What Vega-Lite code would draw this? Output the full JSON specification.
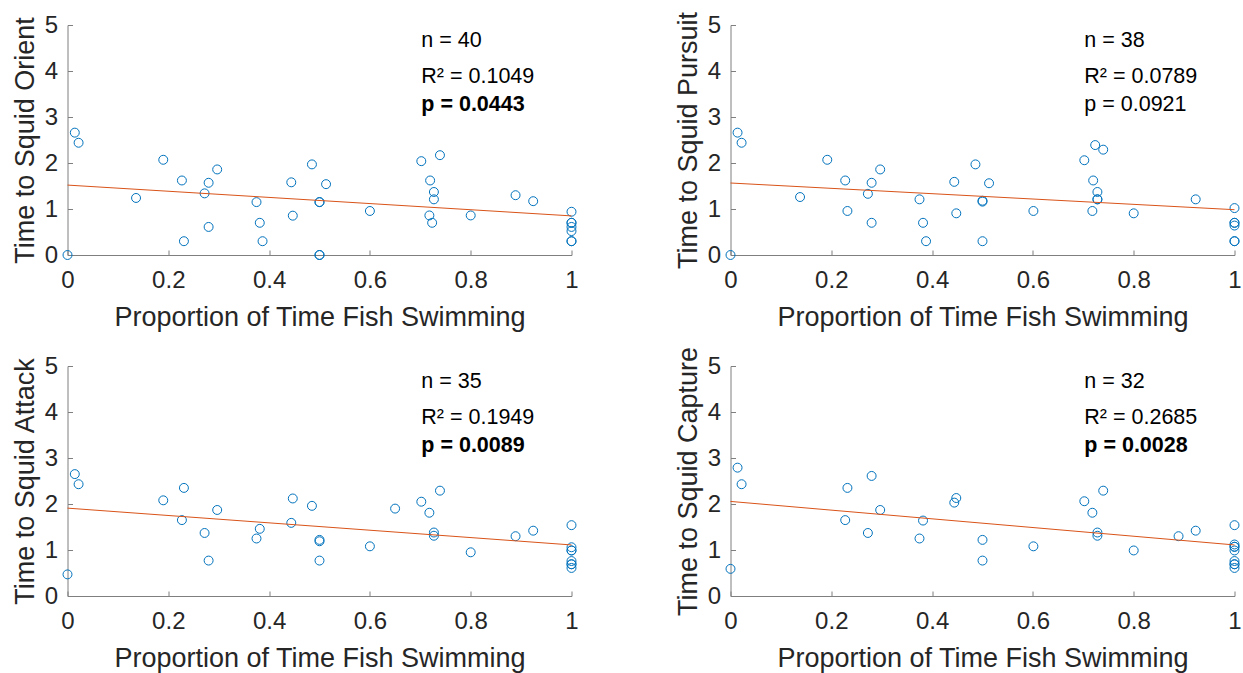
{
  "$schema": "https://vega.github.io/schema/vega-lite/v6.json",
  "background": "white",
  "padding": {"left": 10.5, "top": 11, "right": 2, "bottom": 2},
  "bounds": "flush",
  "columns": 2,
  "spacing": {"row": 111, "column": 159},
  "datasets": {
    "trials": [
      {"stage": "Orient", "swim": 0.000, "time": 0.00},
      {"stage": "Orient", "swim": 0.0145, "time": 2.66},
      {"stage": "Orient", "swim": 0.022, "time": 2.44},
      {"stage": "Orient", "swim": 0.136, "time": 1.24},
      {"stage": "Orient", "swim": 0.190, "time": 2.07},
      {"stage": "Orient", "swim": 0.227, "time": 1.62},
      {"stage": "Orient", "swim": 0.231, "time": 0.30},
      {"stage": "Orient", "swim": 0.272, "time": 1.34},
      {"stage": "Orient", "swim": 0.280, "time": 1.57},
      {"stage": "Orient", "swim": 0.280, "time": 0.61},
      {"stage": "Orient", "swim": 0.297, "time": 1.86},
      {"stage": "Orient", "swim": 0.375, "time": 1.15},
      {"stage": "Orient", "swim": 0.3815, "time": 0.70},
      {"stage": "Orient", "swim": 0.387, "time": 0.30},
      {"stage": "Orient", "swim": 0.444, "time": 1.58},
      {"stage": "Orient", "swim": 0.447, "time": 0.855},
      {"stage": "Orient", "swim": 0.485, "time": 1.97},
      {"stage": "Orient", "swim": 0.500, "time": 1.15},
      {"stage": "Orient", "swim": 0.500, "time": 1.15},
      {"stage": "Orient", "swim": 0.500, "time": 0.00},
      {"stage": "Orient", "swim": 0.500, "time": 0.00},
      {"stage": "Orient", "swim": 0.513, "time": 1.54},
      {"stage": "Orient", "swim": 0.600, "time": 0.957},
      {"stage": "Orient", "swim": 0.702, "time": 2.04},
      {"stage": "Orient", "swim": 0.7195, "time": 1.62},
      {"stage": "Orient", "swim": 0.727, "time": 1.37},
      {"stage": "Orient", "swim": 0.727, "time": 1.21},
      {"stage": "Orient", "swim": 0.718, "time": 0.86},
      {"stage": "Orient", "swim": 0.7235, "time": 0.70},
      {"stage": "Orient", "swim": 0.739, "time": 2.17},
      {"stage": "Orient", "swim": 0.800, "time": 0.86},
      {"stage": "Orient", "swim": 0.889, "time": 1.30},
      {"stage": "Orient", "swim": 0.924, "time": 1.17},
      {"stage": "Orient", "swim": 1, "time": 0.94},
      {"stage": "Orient", "swim": 1, "time": 0.70},
      {"stage": "Orient", "swim": 1, "time": 0.70},
      {"stage": "Orient", "swim": 1, "time": 0.61},
      {"stage": "Orient", "swim": 1, "time": 0.52},
      {"stage": "Orient", "swim": 1, "time": 0.30},
      {"stage": "Orient", "swim": 1, "time": 0.30},

      {"stage": "Pursuit", "swim": 0.000, "time": 0.00},
      {"stage": "Pursuit", "swim": 0.014, "time": 2.66},
      {"stage": "Pursuit", "swim": 0.022, "time": 2.44},
      {"stage": "Pursuit", "swim": 0.138, "time": 1.26},
      {"stage": "Pursuit", "swim": 0.192, "time": 2.07},
      {"stage": "Pursuit", "swim": 0.2276, "time": 1.62},
      {"stage": "Pursuit", "swim": 0.232, "time": 0.957},
      {"stage": "Pursuit", "swim": 0.2726, "time": 1.33},
      {"stage": "Pursuit", "swim": 0.280, "time": 1.57},
      {"stage": "Pursuit", "swim": 0.280, "time": 0.70},
      {"stage": "Pursuit", "swim": 0.297, "time": 1.86},
      {"stage": "Pursuit", "swim": 0.375, "time": 1.21},
      {"stage": "Pursuit", "swim": 0.382, "time": 0.70},
      {"stage": "Pursuit", "swim": 0.388, "time": 0.30},
      {"stage": "Pursuit", "swim": 0.444, "time": 1.59},
      {"stage": "Pursuit", "swim": 0.448, "time": 0.906},
      {"stage": "Pursuit", "swim": 0.486, "time": 1.97},
      {"stage": "Pursuit", "swim": 0.500, "time": 1.16},
      {"stage": "Pursuit", "swim": 0.500, "time": 1.18},
      {"stage": "Pursuit", "swim": 0.500, "time": 0.30},
      {"stage": "Pursuit", "swim": 0.513, "time": 1.56},
      {"stage": "Pursuit", "swim": 0.601, "time": 0.957},
      {"stage": "Pursuit", "swim": 0.702, "time": 2.06},
      {"stage": "Pursuit", "swim": 0.7236, "time": 2.39},
      {"stage": "Pursuit", "swim": 0.7395, "time": 2.29},
      {"stage": "Pursuit", "swim": 0.7196, "time": 1.62},
      {"stage": "Pursuit", "swim": 0.728, "time": 1.37},
      {"stage": "Pursuit", "swim": 0.728, "time": 1.21},
      {"stage": "Pursuit", "swim": 0.728, "time": 1.21},
      {"stage": "Pursuit", "swim": 0.718, "time": 0.957},
      {"stage": "Pursuit", "swim": 0.800, "time": 0.906},
      {"stage": "Pursuit", "swim": 0.923, "time": 1.21},
      {"stage": "Pursuit", "swim": 1, "time": 1.02},
      {"stage": "Pursuit", "swim": 1, "time": 0.70},
      {"stage": "Pursuit", "swim": 1, "time": 0.70},
      {"stage": "Pursuit", "swim": 1, "time": 0.64},
      {"stage": "Pursuit", "swim": 1, "time": 0.30},
      {"stage": "Pursuit", "swim": 1, "time": 0.30},

      {"stage": "Attack", "swim": 0.000, "time": 0.47},
      {"stage": "Attack", "swim": 0.0145, "time": 2.65},
      {"stage": "Attack", "swim": 0.022, "time": 2.43},
      {"stage": "Attack", "swim": 0.190, "time": 2.08},
      {"stage": "Attack", "swim": 0.231, "time": 2.35},
      {"stage": "Attack", "swim": 0.227, "time": 1.65},
      {"stage": "Attack", "swim": 0.297, "time": 1.87},
      {"stage": "Attack", "swim": 0.272, "time": 1.37},
      {"stage": "Attack", "swim": 0.280, "time": 0.77},
      {"stage": "Attack", "swim": 0.375, "time": 1.25},
      {"stage": "Attack", "swim": 0.3815, "time": 1.46},
      {"stage": "Attack", "swim": 0.444, "time": 1.59},
      {"stage": "Attack", "swim": 0.447, "time": 2.12},
      {"stage": "Attack", "swim": 0.485, "time": 1.96},
      {"stage": "Attack", "swim": 0.500, "time": 1.22},
      {"stage": "Attack", "swim": 0.500, "time": 1.19},
      {"stage": "Attack", "swim": 0.500, "time": 0.77},
      {"stage": "Attack", "swim": 0.600, "time": 1.08},
      {"stage": "Attack", "swim": 0.650, "time": 1.90},
      {"stage": "Attack", "swim": 0.702, "time": 2.05},
      {"stage": "Attack", "swim": 0.718, "time": 1.81},
      {"stage": "Attack", "swim": 0.727, "time": 1.38},
      {"stage": "Attack", "swim": 0.727, "time": 1.31},
      {"stage": "Attack", "swim": 0.739, "time": 2.29},
      {"stage": "Attack", "swim": 0.800, "time": 0.95},
      {"stage": "Attack", "swim": 0.889, "time": 1.30},
      {"stage": "Attack", "swim": 0.924, "time": 1.42},
      {"stage": "Attack", "swim": 1, "time": 1.54},
      {"stage": "Attack", "swim": 1, "time": 1.06},
      {"stage": "Attack", "swim": 1, "time": 0.99},
      {"stage": "Attack", "swim": 1, "time": 0.99},
      {"stage": "Attack", "swim": 1, "time": 0.76},
      {"stage": "Attack", "swim": 1, "time": 0.69},
      {"stage": "Attack", "swim": 1, "time": 0.69},
      {"stage": "Attack", "swim": 1, "time": 0.61},

      {"stage": "Capture", "swim": 0.000, "time": 0.59},
      {"stage": "Capture", "swim": 0.014, "time": 2.79},
      {"stage": "Capture", "swim": 0.022, "time": 2.43},
      {"stage": "Capture", "swim": 0.232, "time": 2.35},
      {"stage": "Capture", "swim": 0.2276, "time": 1.65},
      {"stage": "Capture", "swim": 0.280, "time": 2.61},
      {"stage": "Capture", "swim": 0.297, "time": 1.87},
      {"stage": "Capture", "swim": 0.2726, "time": 1.37},
      {"stage": "Capture", "swim": 0.375, "time": 1.25},
      {"stage": "Capture", "swim": 0.382, "time": 1.64},
      {"stage": "Capture", "swim": 0.444, "time": 2.03},
      {"stage": "Capture", "swim": 0.448, "time": 2.13},
      {"stage": "Capture", "swim": 0.500, "time": 1.22},
      {"stage": "Capture", "swim": 0.500, "time": 0.77},
      {"stage": "Capture", "swim": 0.601, "time": 1.08},
      {"stage": "Capture", "swim": 0.702, "time": 2.06},
      {"stage": "Capture", "swim": 0.718, "time": 1.81},
      {"stage": "Capture", "swim": 0.728, "time": 1.38},
      {"stage": "Capture", "swim": 0.728, "time": 1.31},
      {"stage": "Capture", "swim": 0.7395, "time": 2.29},
      {"stage": "Capture", "swim": 0.800, "time": 0.99},
      {"stage": "Capture", "swim": 0.889, "time": 1.30},
      {"stage": "Capture", "swim": 0.923, "time": 1.42},
      {"stage": "Capture", "swim": 1, "time": 1.54},
      {"stage": "Capture", "swim": 1, "time": 1.12},
      {"stage": "Capture", "swim": 1, "time": 1.07},
      {"stage": "Capture", "swim": 1, "time": 1.07},
      {"stage": "Capture", "swim": 1, "time": 0.99},
      {"stage": "Capture", "swim": 1, "time": 0.76},
      {"stage": "Capture", "swim": 1, "time": 0.69},
      {"stage": "Capture", "swim": 1, "time": 0.69},
      {"stage": "Capture", "swim": 1, "time": 0.61}
    ],
    "fits": [
      {"stage": "Orient", "swim": 0, "time": 1.52},
      {"stage": "Orient", "swim": 1, "time": 0.85},
      {"stage": "Pursuit", "swim": 0, "time": 1.565},
      {"stage": "Pursuit", "swim": 1, "time": 0.985},
      {"stage": "Attack", "swim": 0, "time": 1.91},
      {"stage": "Attack", "swim": 1, "time": 1.11},
      {"stage": "Capture", "swim": 0, "time": 2.056},
      {"stage": "Capture", "swim": 1, "time": 1.11}
    ],
    "stats": [
      {"stage": "Orient", "n": "n = 40", "r2": "R² = 0.1049", "p": "p = 0.0443"},
      {"stage": "Pursuit", "n": "n = 38", "r2": "R² = 0.0789", "p": "p = 0.0921"},
      {"stage": "Attack", "n": "n = 35", "r2": "R² = 0.1949", "p": "p = 0.0089"},
      {"stage": "Capture", "n": "n = 32", "r2": "R² = 0.2685", "p": "p = 0.0028"}
    ]
  },
  "config": {
    "view": {"stroke": null},
    "font": "Liberation Sans",
    "axis": {
      "grid": false,
      "domainColor": "#7f7f7f",
      "domainWidth": 1,
      "tickColor": "#7f7f7f",
      "tickWidth": 1,
      "tickSize": -5,
      "labelColor": "#262626",
      "titleColor": "#262626",
      "labelFont": "Liberation Sans",
      "titleFont": "Liberation Sans",
      "labelFontSize": 24,
      "titleFontSize": 27,
      "titleFontWeight": "normal",
      "labelOverlap": false
    },
    "axisX": {"labelPadding": 18.5, "labelFlush": false, "titleY": 70, "titleBaseline": "alphabetic"},
    "axisY": {"labelPadding": 15, "titleX": -34.4, "titleBaseline": "alphabetic"},
    "text": {"font": "Liberation Sans", "fontSize": 21.5, "color": "#000000", "align": "left", "baseline": "alphabetic"}
  },
  "concat": [
    {
      "width": 504, "height": 230,
      "layer": [
        {
          "data": {"name": "trials"},
          "transform": [{"filter": "datum.stage === 'Orient'"}],
          "mark": {"type": "point", "shape": "circle", "filled": false, "stroke": "#0072BD", "strokeWidth": 1, "size": 80, "opacity": 1},
          "encoding": {
            "x": {"field": "swim", "type": "quantitative", "scale": {"domain": [0, 1], "nice": false}, "axis": {"title": "Proportion of Time Fish Swimming", "values": [0, 0.2, 0.4, 0.6, 0.8, 1], "format": "~g"}},
            "y": {"field": "time", "type": "quantitative", "scale": {"domain": [0, 5], "nice": false}, "axis": {"title": "Time to Squid Orient", "values": [0, 1, 2, 3, 4, 5]}}
          }
        },
        {
          "data": {"name": "fits"},
          "transform": [{"filter": "datum.stage === 'Orient'"}],
          "mark": {"type": "line", "color": "#D95319", "strokeWidth": 1},
          "encoding": {"x": {"field": "swim", "type": "quantitative"}, "y": {"field": "time", "type": "quantitative"}}
        },
        {
          "data": {"name": "stats"},
          "transform": [{"filter": "datum.stage === 'Orient'"}],
          "layer": [
            {"mark": {"type": "text"}, "encoding": {"x": {"datum": 0.702, "type": "quantitative"}, "y": {"datum": 4.53, "type": "quantitative"}, "text": {"field": "n"}}},
            {"mark": {"type": "text"}, "encoding": {"x": {"datum": 0.702, "type": "quantitative"}, "y": {"datum": 3.75, "type": "quantitative"}, "text": {"field": "r2"}}},
            {"mark": {"type": "text", "fontWeight": "bold"}, "encoding": {"x": {"datum": 0.702, "type": "quantitative"}, "y": {"datum": 3.12, "type": "quantitative"}, "text": {"field": "p"}}}
          ]
        }
      ]
    },
    {
      "width": 504, "height": 230,
      "layer": [
        {
          "data": {"name": "trials"},
          "transform": [{"filter": "datum.stage === 'Pursuit'"}],
          "mark": {"type": "point", "shape": "circle", "filled": false, "stroke": "#0072BD", "strokeWidth": 1, "size": 80, "opacity": 1},
          "encoding": {
            "x": {"field": "swim", "type": "quantitative", "scale": {"domain": [0, 1], "nice": false}, "axis": {"title": "Proportion of Time Fish Swimming", "values": [0, 0.2, 0.4, 0.6, 0.8, 1], "format": "~g"}},
            "y": {"field": "time", "type": "quantitative", "scale": {"domain": [0, 5], "nice": false}, "axis": {"title": "Time to Squid Pursuit", "values": [0, 1, 2, 3, 4, 5]}}
          }
        },
        {
          "data": {"name": "fits"},
          "transform": [{"filter": "datum.stage === 'Pursuit'"}],
          "mark": {"type": "line", "color": "#D95319", "strokeWidth": 1},
          "encoding": {"x": {"field": "swim", "type": "quantitative"}, "y": {"field": "time", "type": "quantitative"}}
        },
        {
          "data": {"name": "stats"},
          "transform": [{"filter": "datum.stage === 'Pursuit'"}],
          "layer": [
            {"mark": {"type": "text"}, "encoding": {"x": {"datum": 0.702, "type": "quantitative"}, "y": {"datum": 4.53, "type": "quantitative"}, "text": {"field": "n"}}},
            {"mark": {"type": "text"}, "encoding": {"x": {"datum": 0.702, "type": "quantitative"}, "y": {"datum": 3.75, "type": "quantitative"}, "text": {"field": "r2"}}},
            {"mark": {"type": "text"}, "encoding": {"x": {"datum": 0.702, "type": "quantitative"}, "y": {"datum": 3.12, "type": "quantitative"}, "text": {"field": "p"}}}
          ]
        }
      ]
    },
    {
      "width": 504, "height": 230,
      "layer": [
        {
          "data": {"name": "trials"},
          "transform": [{"filter": "datum.stage === 'Attack'"}],
          "mark": {"type": "point", "shape": "circle", "filled": false, "stroke": "#0072BD", "strokeWidth": 1, "size": 80, "opacity": 1},
          "encoding": {
            "x": {"field": "swim", "type": "quantitative", "scale": {"domain": [0, 1], "nice": false}, "axis": {"title": "Proportion of Time Fish Swimming", "values": [0, 0.2, 0.4, 0.6, 0.8, 1], "format": "~g"}},
            "y": {"field": "time", "type": "quantitative", "scale": {"domain": [0, 5], "nice": false}, "axis": {"title": "Time to Squid Attack", "values": [0, 1, 2, 3, 4, 5]}}
          }
        },
        {
          "data": {"name": "fits"},
          "transform": [{"filter": "datum.stage === 'Attack'"}],
          "mark": {"type": "line", "color": "#D95319", "strokeWidth": 1},
          "encoding": {"x": {"field": "swim", "type": "quantitative"}, "y": {"field": "time", "type": "quantitative"}}
        },
        {
          "data": {"name": "stats"},
          "transform": [{"filter": "datum.stage === 'Attack'"}],
          "layer": [
            {"mark": {"type": "text"}, "encoding": {"x": {"datum": 0.702, "type": "quantitative"}, "y": {"datum": 4.53, "type": "quantitative"}, "text": {"field": "n"}}},
            {"mark": {"type": "text"}, "encoding": {"x": {"datum": 0.702, "type": "quantitative"}, "y": {"datum": 3.75, "type": "quantitative"}, "text": {"field": "r2"}}},
            {"mark": {"type": "text", "fontWeight": "bold"}, "encoding": {"x": {"datum": 0.702, "type": "quantitative"}, "y": {"datum": 3.12, "type": "quantitative"}, "text": {"field": "p"}}}
          ]
        }
      ]
    },
    {
      "width": 504, "height": 230,
      "layer": [
        {
          "data": {"name": "trials"},
          "transform": [{"filter": "datum.stage === 'Capture'"}],
          "mark": {"type": "point", "shape": "circle", "filled": false, "stroke": "#0072BD", "strokeWidth": 1, "size": 80, "opacity": 1},
          "encoding": {
            "x": {"field": "swim", "type": "quantitative", "scale": {"domain": [0, 1], "nice": false}, "axis": {"title": "Proportion of Time Fish Swimming", "values": [0, 0.2, 0.4, 0.6, 0.8, 1], "format": "~g"}},
            "y": {"field": "time", "type": "quantitative", "scale": {"domain": [0, 5], "nice": false}, "axis": {"title": "Time to Squid Capture", "values": [0, 1, 2, 3, 4, 5]}}
          }
        },
        {
          "data": {"name": "fits"},
          "transform": [{"filter": "datum.stage === 'Capture'"}],
          "mark": {"type": "line", "color": "#D95319", "strokeWidth": 1},
          "encoding": {"x": {"field": "swim", "type": "quantitative"}, "y": {"field": "time", "type": "quantitative"}}
        },
        {
          "data": {"name": "stats"},
          "transform": [{"filter": "datum.stage === 'Capture'"}],
          "layer": [
            {"mark": {"type": "text"}, "encoding": {"x": {"datum": 0.702, "type": "quantitative"}, "y": {"datum": 4.53, "type": "quantitative"}, "text": {"field": "n"}}},
            {"mark": {"type": "text"}, "encoding": {"x": {"datum": 0.702, "type": "quantitative"}, "y": {"datum": 3.75, "type": "quantitative"}, "text": {"field": "r2"}}},
            {"mark": {"type": "text", "fontWeight": "bold"}, "encoding": {"x": {"datum": 0.702, "type": "quantitative"}, "y": {"datum": 3.12, "type": "quantitative"}, "text": {"field": "p"}}}
          ]
        }
      ]
    }
  ]
}
